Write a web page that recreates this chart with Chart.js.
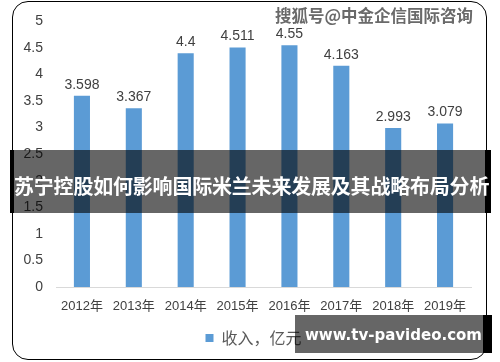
<!DOCTYPE html>
<html>
<head>
<meta charset="utf-8">
<title>收入，亿元</title>
<style>
    body{
        margin:0;
        background:#fff;
    }
    #wrap{
        position:relative;
        width:500px;
        height:362px;
        overflow:hidden;
    }
    #chart{
        position:absolute;
        left:0;
        top:0;
    }
    .frame{
        position:absolute;
        left:12px;
        top:1px;
        width:473px;
        height:357px;
        border:1px solid #000;
        border-radius:16px;
    }
    .mark{
        position:absolute;
        left:275px;
        top:3px;
        font:bold 16.5px "Noto Sans CJK SC", sans-serif;
        color:#6a6a6a;
        white-space:nowrap;
        text-shadow:0 0 2px #fff, 0 0 2px #fff, 1px 1px 0 #fff;
    }
    .banner{
        position:absolute;
        left:10px;
        top:150px;
        height:63px;
        width:481px;
        background:rgba(0,0,0,0.6);
        border-left:4px solid #000;
        border-right:6px solid #000;
        box-sizing:border-box;
        color:#fff;
        font:bold 20px "Noto Sans CJK SC", sans-serif;
        line-height:63px;
        text-align:center;
        white-space:nowrap;
        letter-spacing:-0.2px;
        padding-top:4px;
    }
    .site{
        position:absolute;
        left:295px;
        top:315px;
        width:197px;
        height:38px;
        box-sizing:border-box;
        background:rgba(0,0,0,0.6);
        border-right:9px solid #000;
        color:#fff;
        font:bold 15px "DejaVu Sans", sans-serif;
        line-height:40px;
        padding-left:10px;
        white-space:nowrap;
    }
</style>
</head>
<body>
<div id="wrap">
    <canvas id="chart" width="500" height="362"></canvas>
    <div class="frame"></div>
    <div class="mark">搜狐号@中金企信国际咨询</div>
    <div class="banner">苏宁控股如何影响国际米兰未来发展及其战略布局分析</div>
    <div class="site">www.tv-pavideo.com</div>
</div>

<script src="https://cdn.jsdelivr.net/npm/chart.js@4.4.1/dist/chart.umd.min.js"></script>
<script>
    const years = ['2012年', '2013年', '2014年', '2015年', '2016年', '2017年', '2018年', '2019年'];
    const revenue = [3.598, 3.367, 4.4, 4.511, 4.55, 4.163, 2.993, 3.079];
    const seriesName = '收入，亿元';
    const yMin = 0;
    const yMax = 5;
    const yStep = 0.5;

    const fontFamily = '"Liberation Sans", "Noto Sans CJK SC", sans-serif';

    // value labels above each bar
    const barLabels = {
        id: 'barLabels',
        afterDatasetsDraw(chart) {
            const ctx = chart.ctx;
            const meta = chart.getDatasetMeta(0);
            ctx.save();
            ctx.font = '14px ' + fontFamily;
            ctx.fillStyle = '#404040';
            ctx.textAlign = 'center';
            ctx.textBaseline = 'bottom';
            meta.data.forEach((bar, i) => {
                ctx.fillText(String(revenue[i]), bar.x, bar.y - 4);
            });
            ctx.restore();
        }
    };

    // legend sits a bit right of the canvas centre in the original
    const legendShift = {
        id: 'legendShift',
        afterLayout(chart) {
            chart.legend.left += 18;
            chart.legend.right += 18;
        }
    };

    new Chart('chart', {
        type: 'bar',
        data: {
            labels: years,
            datasets: [{
                label: seriesName,
                data: revenue,
                backgroundColor: '#5B9BD5',
                barPercentage: 0.31,
                categoryPercentage: 1
            }]
        },
        options: {
            responsive: false,
            animation: false,
            layout: {
                padding: { left: 0, right: 29, top: 15, bottom: 6 }
            },
            plugins: {
                legend: {
                    position: 'bottom',
                    labels: {
                        boxWidth: 8,
                        boxHeight: 8,
                        padding: 10,
                        color: '#595959',
                        font: { size: 16, family: '"Noto Sans CJK SC", sans-serif' }
                    }
                },
                tooltip: { enabled: false }
            },
            scales: {
                x: {
                    grid: { display: false, drawTicks: false },
                    border: { color: '#D9D9D9', width: 1 },
                    ticks: {
                        color: '#404040',
                        padding: 12,
                        font: { size: 13, family: fontFamily }
                    },
                    afterFit: s => { s.height = 33; }
                },
                y: {
                    min: yMin,
                    max: yMax,
                    grid: { display: false, drawTicks: false },
                    border: { display: false },
                    ticks: {
                        stepSize: yStep,
                        color: '#404040',
                        padding: 13,
                        font: { size: 14, family: fontFamily },
                        callback: v => String(v)
                    },
                    afterFit: s => { s.width = 56; }
                }
            }
        },
        plugins: [barLabels, legendShift]
    });
</script>
</body>
</html>
